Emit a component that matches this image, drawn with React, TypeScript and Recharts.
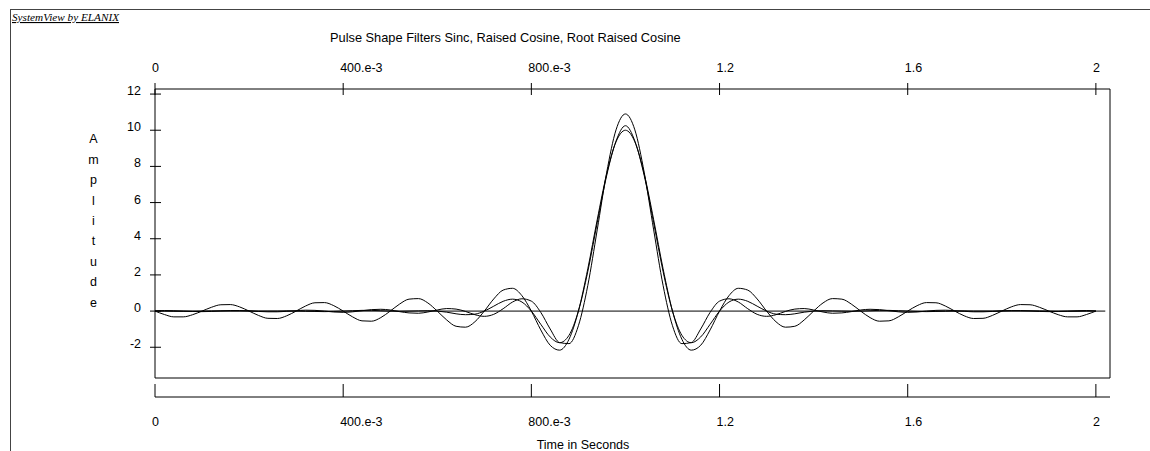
import { LineChart, Line, XAxis, YAxis, ReferenceLine } from 'recharts';

// time axis in seconds, one sample every 20 ms
const time = [
  0, 0.02, 0.04, 0.06, 0.08, 0.1, 0.12, 0.14, 0.16, 0.18,
  0.2, 0.22, 0.24, 0.26, 0.28, 0.3, 0.32, 0.34, 0.36, 0.38,
  0.4, 0.42, 0.44, 0.46, 0.48, 0.5, 0.52, 0.54, 0.56, 0.58,
  0.6, 0.62, 0.64, 0.66, 0.68, 0.7, 0.72, 0.74, 0.76, 0.78,
  0.8, 0.82, 0.84, 0.86, 0.88, 0.9, 0.92, 0.94, 0.96, 0.98,
  1.0, 1.02, 1.04, 1.06, 1.08, 1.1, 1.12, 1.14, 1.16, 1.18,
  1.2, 1.22, 1.24, 1.26, 1.28, 1.3, 1.32, 1.34, 1.36, 1.38,
  1.4, 1.42, 1.44, 1.46, 1.48, 1.5, 1.52, 1.54, 1.56, 1.58,
  1.6, 1.62, 1.64, 1.66, 1.68, 1.7, 1.72, 1.74, 1.76, 1.78,
  1.8, 1.82, 1.84, 1.86, 1.88, 1.9, 1.92, 1.94, 1.96, 1.98,
  2.0,
];

const sinc = [
  0, -0.19, -0.32, -0.32, -0.2, 0, 0.21, 0.35, 0.36, 0.23,
  0, -0.24, -0.4, -0.41, -0.26, 0, 0.28, 0.46, 0.47, 0.3,
  0, -0.32, -0.54, -0.56, -0.36, 0, 0.39, 0.66, 0.69, 0.45,
  0, -0.49, -0.84, -0.89, -0.59, 0, 0.67, 1.16, 1.26, 0.85,
  0, -1.04, -1.89, -2.16, -1.56, 0, 2.34, 5.05, 7.57, 9.36,
  10.0, 9.36, 7.57, 5.05, 2.34, 0, -1.56, -2.16, -1.89, -1.04,
  0, 0.85, 1.26, 1.16, 0.67, 0, -0.59, -0.89, -0.84, -0.49,
  0, 0.45, 0.69, 0.66, 0.39, 0, -0.36, -0.56, -0.54, -0.32,
  0, 0.3, 0.47, 0.46, 0.28, 0, -0.26, -0.41, -0.4, -0.24,
  0, 0.23, 0.36, 0.35, 0.21, 0, -0.2, -0.32, -0.32, -0.19,
  0,
];

const raisedCosine = [
  0, 0, -0.01, -0.01, -0.01, 0, 0.01, 0.01, 0.01, 0.01,
  0, 0, 0, 0, 0.01, 0, -0.01, -0.02, -0.03, -0.02,
  0, 0.02, 0.04, 0.04, 0.02, 0, -0.01, 0, 0.01, 0.02,
  0, -0.06, -0.15, -0.2, -0.17, 0, 0.27, 0.54, 0.66, 0.5,
  0, -0.73, -1.43, -1.75, -1.34, 0, 2.19, 4.88, 7.48, 9.4,
  10.25, 9.4, 7.48, 4.88, 2.19, 0, -1.34, -1.75, -1.43, -0.73,
  0, 0.5, 0.66, 0.54, 0.27, 0, -0.17, -0.2, -0.15, -0.06,
  0, 0.02, 0.01, 0, -0.01, 0, 0.02, 0.04, 0.04, 0.02,
  0, -0.02, -0.03, -0.02, -0.01, 0, 0.01, 0, 0, 0,
  0, 0.01, 0.01, 0.01, 0.01, 0, -0.01, -0.01, -0.01, 0,
  0,
];

const rootRaisedCosine = [
  0.01, 0.03, 0.02, 0, -0.02, -0.03, -0.02, 0.01, 0.03, 0.03,
  0.02, -0.02, -0.04, -0.04, -0.01, 0.02, 0.05, 0.04, 0, -0.05,
  -0.07, -0.04, 0.02, 0.08, 0.1, 0.06, -0.03, -0.1, -0.12, -0.05,
  0.06, 0.14, 0.11, -0.02, -0.2, -0.29, -0.18, 0.13, 0.5, 0.68,
  0.55, -0.07, -0.99, -1.74, -1.8, -0.81, 1.42, 4.49, 7.65, 10.02,
  10.9, 10.02, 7.65, 4.49, 1.42, -0.81, -1.8, -1.74, -0.99, -0.07,
  0.55, 0.68, 0.5, 0.13, -0.18, -0.29, -0.2, -0.02, 0.11, 0.14,
  0.06, -0.05, -0.12, -0.1, -0.03, 0.06, 0.1, 0.08, 0.02, -0.04,
  -0.07, -0.05, 0, 0.04, 0.05, 0.02, -0.01, -0.04, -0.04, -0.02,
  0.02, 0.03, 0.03, 0.01, -0.02, -0.03, -0.02, 0, 0.02, 0.03,
  0.01,
];

const xTicks = [0, 0.4, 0.8, 1.2, 1.6, 2];
const xTickLabels = ['0', '400.e-3', '800.e-3', '1.2', '1.6', '2'];
const yTicks = [-2, 0, 2, 4, 6, 8, 10, 12];

const title = 'Pulse Shape Filters Sinc, Raised Cosine, Root Raised Cosine';
const xTitle = 'Time in Seconds';
const yTitle = 'Amplitude';
const caption = 'SystemView by ELANIX';

const font = '"Liberation Sans", Arial, sans-serif';
const fs = 12.5;

const data = time.map((t, i) => ({
  t,
  sinc: sinc[i],
  rc: raisedCosine[i],
  rrc: rootRaisedCosine[i],
}));

const TopTick = ({ x, y, payload }: any) => {
  const lbl = xTickLabels[xTicks.indexOf(payload.value)];
  return (
    <g>
      <line x1={x} x2={x} y1={y - 6} y2={y + 6} stroke="#000" />
      <text x={x - 3} y={y - 17.5} fontSize={fs} fontFamily={font} fill="#000" textAnchor="start">
        {lbl}
      </text>
    </g>
  );
};

const BottomTick = ({ x, y, payload }: any) => {
  const lbl = xTickLabels[xTicks.indexOf(payload.value)];
  return (
    <g>
      <line x1={x} x2={x} y1={y - 13} y2={y} stroke="#000" />
      <text x={x - 3} y={y + 28.5} fontSize={fs} fontFamily={font} fill="#000" textAnchor="start">
        {lbl}
      </text>
    </g>
  );
};

const LeftTick = ({ x, y, payload }: any) => (
  <g>
    <line x1={x - 5} x2={x + 6} y1={y} y2={y} stroke="#000" />
    <text x={x - 14} y={y + 1} fontSize={fs} fontFamily={font} fill="#000" textAnchor="end">
      {payload.value}
    </text>
  </g>
);

export default function App() {
  return (
    <div style={{ position: 'absolute', left: 0, top: 0, width: 1150, height: 451, background: '#fff' }}>
      <LineChart
        width={1150}
        height={451}
        data={data}
        margin={{ top: 59, right: 0, bottom: 0, left: 95 }}
      >
        <XAxis
          xAxisId="top"
          orientation="top"
          type="number"
          dataKey="t"
          domain={[0, 2.03]}
          allowDataOverflow
          ticks={xTicks}
          height={30}
          axisLine={{ stroke: '#000' }}
          tickLine={false}
          tickSize={0}
          tickMargin={0}
          tick={<TopTick />}
        />
        <XAxis
          xAxisId="axisBox"
          orientation="bottom"
          type="number"
          dataKey="t"
          domain={[0, 2.03]}
          allowDataOverflow
          height={19}
          axisLine={{ stroke: '#000' }}
          tickLine={false}
          tick={false}
        />
        <XAxis
          xAxisId="axisTicks"
          orientation="bottom"
          type="number"
          dataKey="t"
          domain={[0, 2.03]}
          allowDataOverflow
          ticks={xTicks}
          height={54}
          axisLine={{ stroke: '#000' }}
          tickLine={false}
          tickSize={0}
          tickMargin={0}
          tick={<BottomTick />}
        />
        <YAxis
          yAxisId="left"
          type="number"
          domain={[-3.7, 12.28]}
          allowDataOverflow
          ticks={yTicks}
          width={60}
          axisLine={{ stroke: '#000' }}
          tickLine={false}
          tickSize={0}
          tickMargin={0}
          tick={<LeftTick />}
        />
        <YAxis
          yAxisId="right"
          orientation="right"
          type="number"
          domain={[-3.7, 12.28]}
          width={40}
          axisLine={{ stroke: '#000' }}
          tickLine={false}
          tick={false}
        />
        <ReferenceLine
          xAxisId="top"
          yAxisId="left"
          segment={[{ x: 0, y: 0 }, { x: 2.02, y: 0 }]}
          stroke="#000"
        />
        <Line xAxisId="top" yAxisId="left" type="monotone" dataKey="sinc" stroke="#000" strokeWidth={1} dot={false} isAnimationActive={false} />
        <Line xAxisId="top" yAxisId="left" type="monotone" dataKey="rc" stroke="#000" strokeWidth={1} dot={false} isAnimationActive={false} />
        <Line xAxisId="top" yAxisId="left" type="monotone" dataKey="rrc" stroke="#000" strokeWidth={1} dot={false} isAnimationActive={false} />
      </LineChart>

      <svg width={1150} height={451} style={{ position: 'absolute', left: 0, top: 0, pointerEvents: 'none' }}>
        <line x1={10} x2={1150} y1={9.5} y2={9.5} stroke="#444" />
        <line x1={10.5} x2={10.5} y1={9} y2={451} stroke="#444" />
        <text
          x={12}
          y={21}
          fontSize={11}
          fontStyle="italic"
          fontFamily='"Liberation Serif", "Times New Roman", serif'
          textDecoration="underline"
          textLength={107}
          lengthAdjust="spacingAndGlyphs"
          fill="#000"
        >
          {caption}
        </text>
        <text x={330} y={41.5} fontSize={12.8} fontFamily={font} fill="#000">
          {title}
        </text>
        {yTitle.split('').map((ch, i) => (
          <text key={i} x={93.5} y={143.3 + i * 20.4} fontSize={fs} fontFamily={font} fill="#000" textAnchor="middle">
            {ch}
          </text>
        ))}
        <text x={583} y={449} fontSize={fs} fontFamily={font} fill="#000" textAnchor="middle">
          {xTitle}
        </text>
      </svg>
    </div>
  );
}
